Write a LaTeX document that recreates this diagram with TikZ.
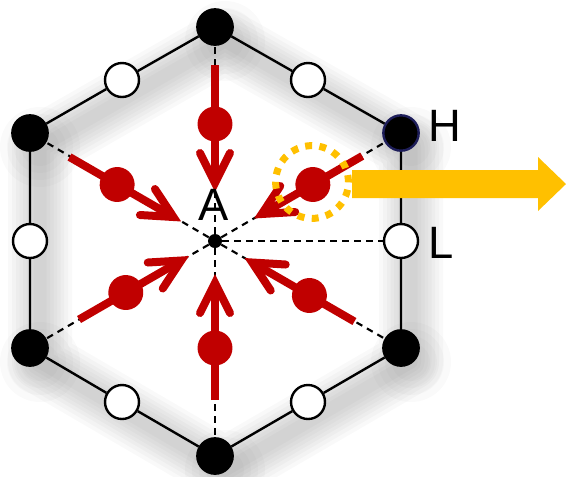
\documentclass[tikz,border=0pt]{standalone}
\usepackage{fontspec}
\setmainfont{Liberation Sans}
\definecolor{dred}{HTML}{C00000}
\definecolor{gold}{HTML}{FFC000}
\definecolor{navyline}{HTML}{1E1E5A}
\begin{document}
\begin{tikzpicture}[x=0.75pt,y=-0.75pt,
  vtx/.style={circle,fill=black,draw=black,line width=1.8pt,minimum size=26.5pt,inner sep=0pt},
  mid/.style={circle,fill=white,draw=black,line width=1.8pt,minimum size=25.5pt,inner sep=0pt},
  edge/.style={line width=1.8pt},
  dline/.style={line width=1.6pt,dash pattern=on 5pt off 4pt},
  redshaft/.style={dred,line width=6pt},
  redhead/.style={dred,line width=6pt,line cap=round,line join=miter,miter limit=10},
  shadline/.style={black,opacity=0.022,line join=round},
  lab/.style={font=\fontsize{34}{34}\selectfont,inner sep=0pt}]
\useasboundingbox (0,0) rectangle (566,476);
\newcommand\redarr[4]{%
  \begin{scope}[shift={(215,241)},rotate=#1]
    \draw[redshaft] (#2,0) -- (#4+6,0);
    \draw[redhead] (#4+30,-15) -- (#4,0) -- (#4+30,15);
    \fill[dred] (#3,0) circle[radius=13.1pt];
  \end{scope}}
% soft shadow of the hexagon
\begin{scope}[shift={(10,14)}]
  \foreach \w in {64,56,48,41,34,27,20,13}
    \draw[shadline,line width=\w*0.75pt] (215,27) -- (401,133) -- (401,348) -- (215,456) -- (30,348) -- (30,133) -- cycle;
  \foreach \p in {(215,27),(401,133),(401,348),(215,456),(30,348),(30,133)}
    \foreach \r in {40,33,26,19}
      \fill[black,opacity=0.02] \p circle[radius=\r*0.75pt];
\end{scope}
% vertices
\node[vtx] (v1) at (215,27) {};
\node[vtx,draw=navyline] (v2) at (401,133) {};
\node[vtx] (v3) at (401,348) {};
\node[vtx] (v4) at (215,456) {};
\node[vtx] (v5) at (30,348) {};
\node[vtx] (v6) at (30,133) {};
% edge midpoints
\node[mid] (m1) at (308,80) {};
\node[mid] (m2) at (401,241) {};
\node[mid] (m3) at (308,402) {};
\node[mid] (m4) at (122,402) {};
\node[mid] (m5) at (30,241) {};
\node[mid] (m6) at (122,80) {};
% center
\node[circle,fill=black,minimum size=10.5pt,inner sep=0pt] (c) at (215,241) {};
% hexagon
\draw[edge] (v1) -- (m1) -- (v2) -- (m2) -- (v3) -- (m3) -- (v4) -- (m4) -- (v5) -- (m5) -- (v6) -- (m6) -- (v1);
% dashed spokes
\foreach \v in {v1,v2,v3,v4,v5,v6,m2} \draw[dline] (c) -- (\v);
% red arrows
\redarr{90}{176}{117}{58}
\redarr{150}{168}{113}{48}
\redarr{30}{170}{113}{54}
\redarr{210}{157}{103}{39}
\redarr{330}{161}{109}{43}
\redarr{270}{159}{107}{42}
% labels
\node[lab] (A) at (214,205) {A};
\node[lab] (H) at (445,126) {H};
\node[lab] (L) at (441,243) {L};
% highlight circle
\draw[gold,line width=5.25pt,dash pattern=on 5.2pt off 5.5pt] (312,182) circle[radius=27.3pt];
% big arrow
\fill[gold] (352,170) -- (538,170) -- (538,157) -- (566,184) -- (538,211) -- (538,198) -- (352,198) -- cycle;
\end{tikzpicture}
\end{document}
